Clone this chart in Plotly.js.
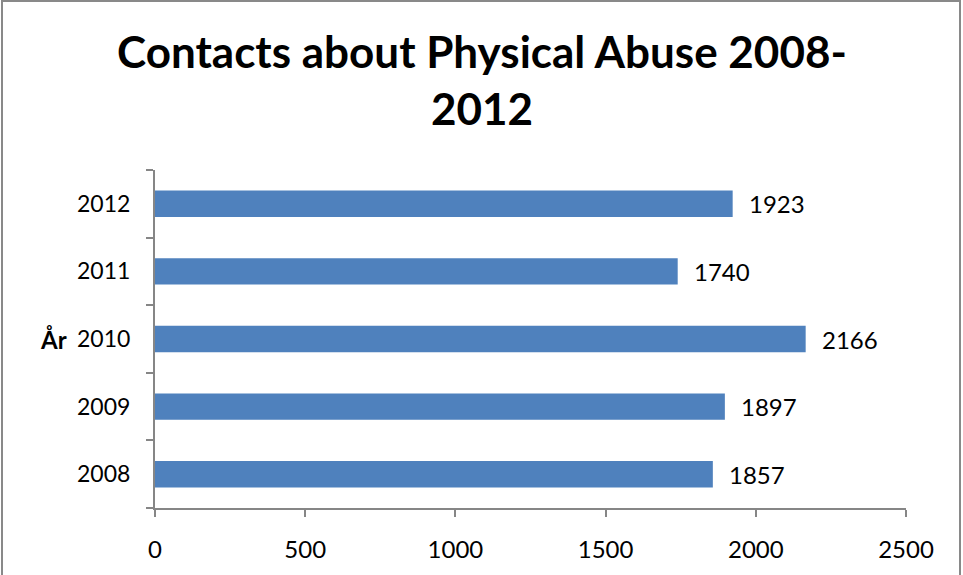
<!DOCTYPE html>
<html>
<head>
<meta charset="utf-8">
<script src="https://cdn.plot.ly/plotly-3.0.1.min.js"></script>
<style>
html,body{margin:0;padding:0;background:#fff;overflow:hidden;}
#wrap{position:absolute;left:1px;top:0;width:960px;height:580px;border:2px solid #898989;box-sizing:border-box;}
#chart{position:absolute;left:-3px;top:-2px;width:963px;height:575px;}
</style>
</head>
<body>
<div id="wrap"><div id="chart"></div></div>
<script>
const years = ["2008", "2009", "2010", "2011", "2012"];
const contacts = [1857, 1897, 2166, 1740, 1923];
const xTicks = [0, 500, 1000, 1500, 2000, 2500];
const titleLines = ["Contacts about Physical Abuse 2008-", "2012"];
const yAxisLabel = "År";

const FONT = "Lato, 'Open Sans', sans-serif";
const pos = years.map((_, i) => i);
const bounds = [-0.5].concat(pos.map(p => p + 0.5));

const trace = {
  type: "bar",
  orientation: "h",
  y: pos,
  x: contacts,
  marker: {color: "#4f81bd", line: {width: 0}},
  width: 0.39,
  hoverinfo: "skip"
};

const annotations = pos.map((p, i) => ({
  x: contacts[i], y: p, xref: "x", yref: "y",
  text: String(contacts[i]), showarrow: false,
  xanchor: "left", yanchor: "middle", xshift: 14,
  font: {family: FONT, size: 24, color: "#000"}
}));
annotations.push({
  xref: "paper", yref: "paper", x: -0.114, y: 0.5,
  text: "<b>" + yAxisLabel + "</b>", showarrow: false,
  xanchor: "right", yanchor: "middle",
  font: {family: FONT, size: 24, color: "#000"}
});
annotations.push({
  xref: "paper", yref: "paper", x: 0.435, y: 1.435,
  text: "<b>" + titleLines.join("<br>") + "</b>", showarrow: false,
  xanchor: "center", yanchor: "top", align: "center",
  font: {family: FONT, size: 44, color: "#000"}
});

const layout = {
  width: 963, height: 575,
  margin: {l: 155, r: 57, t: 170, b: 67, pad: 0},
  paper_bgcolor: "rgba(0,0,0,0)", plot_bgcolor: "rgba(0,0,0,0)",
  showlegend: false,
  xaxis: {
    range: [0, 2500], tickvals: xTicks, ticktext: xTicks.map(String),
    showgrid: false, zeroline: false,
    showline: true, linecolor: "#868686", linewidth: 2,
    ticks: "outside", ticklen: 7, tickwidth: 2, tickcolor: "#868686",
    ticklabelstandoff: 12,
    tickfont: {family: FONT, size: 24, color: "#000"},
    fixedrange: true
  },
  yaxis: {
    range: [-0.5, 4.5], tickvals: pos, ticktext: years,
    showgrid: false, zeroline: false,
    showline: true, linecolor: "#868686", linewidth: 2,
    ticks: "", ticklabelstandoff: 18,
    tickfont: {family: FONT, size: 23, color: "#000"},
    minor: {tickvals: bounds, ticks: "outside", ticklen: 7, tickwidth: 2, tickcolor: "#868686", showgrid: false},
    fixedrange: true
  },
  annotations: annotations
};

Plotly.newPlot("chart", [trace], layout, {displayModeBar: false, staticPlot: true});
</script>
</body>
</html>
